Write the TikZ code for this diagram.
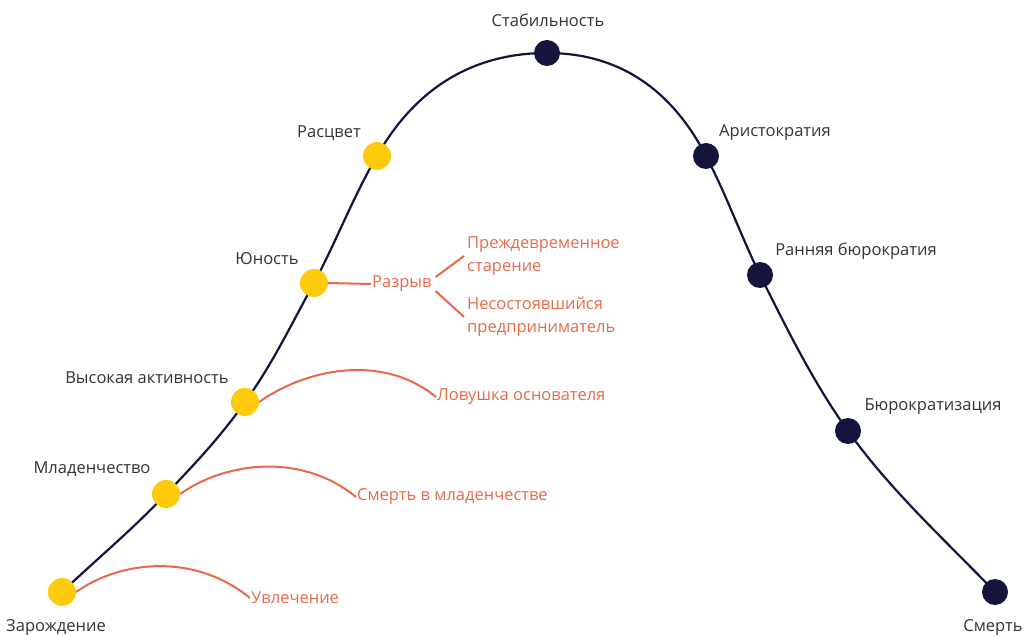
\documentclass[tikz,border=0pt]{standalone}
\usepackage{fontspec}
\setmainfont{Open Sans}
\definecolor{navy}{HTML}{14143C}
\definecolor{gold}{HTML}{FDCB0C}
\definecolor{coral}{HTML}{E8694A}
\definecolor{lbl}{HTML}{333333}
\begin{document}
\begin{tikzpicture}[x=1pt,y=-1pt,
  ydot/.style={circle,fill=gold,inner sep=0pt,minimum size=28pt},
  ndot/.style={circle,fill=navy,inner sep=0pt,minimum size=26pt},
  lab/.style={text=lbl,font=\fontsize{16.5}{20}\selectfont,inner sep=0pt},
  rlab/.style={text=coral,font=\fontsize{16.5}{23}\selectfont,inner sep=1pt,anchor=west},
  rline/.style={draw=coral,line width=2pt},
  curve/.style={draw=navy,line width=2.2pt}]
\useasboundingbox (0,0) rectangle (1026,636);
\coordinate (p0) at (62,592);
\coordinate (p1) at (166,494);
\coordinate (p2) at (245,402);
\coordinate (p3) at (314,283);
\coordinate (p4) at (377,156);
\coordinate (p5) at (547,53);
\coordinate (p6) at (706,156);
\coordinate (p7) at (760,275);
\coordinate (p8) at (848,431);
\coordinate (p9) at (995,592);
\draw[curve] (p0) .. controls +(35,-33) and +(-33,35) .. (p1)
  .. controls +(28,-29) and +(-23,33) .. (p2)
  .. controls +(27,-37) and +(-22,40) .. (p3)
  .. controls +(22,-41) and +(-24,41) .. (p4)
  .. controls +(35,-62) and +(-80,0) .. (p5)
  .. controls +(80,0) and +(-30,-58) .. (p6)
  .. controls +(20,38) and +(-19,-39) .. (p7)
  .. controls +(27,54) and +(-35,-49) .. (p8)
  .. controls +(42,59) and +(-50,-52) .. (p9);
% dots
\node[ydot] (zar) at (p0) {};
\node[ydot] (mla) at (p1) {};
\node[ydot] (vys) at (p2) {};
\node[ydot] (yun) at (p3) {};
\node[ydot] (ras) at (p4) {};
\node[ndot] (sta) at (p5) {};
\node[ndot] (ari) at (p6) {};
\node[ndot] (rbu) at (p7) {};
\node[ndot] (bur) at (p8) {};
\node[ndot] (sme) at (p9) {};
% labels
\node[lab] (tzar) at (56,628) {Зарождение};
\node[lab] (tmla) at (92,469) {Младенчество};
\node[lab] (tvys) at (147,378) {Высокая активность};
\node[lab] (tyun) at (267,259) {Юность};
\node[lab] (tras) at (329,133) {Расцвет};
\node[lab] (tsta) at (548,20) {Стабильность};
\node[lab] (tari) at (775,133) {Аристократия};
\node[lab] (trbu) at (856,251) {Ранняя бюрократия};
\node[lab] (tbur) at (933,407) {Бюрократизация};
\node[lab] (tsme) at (993,628) {Смерть};
% red labels
\node[rlab] (uvl) at (250,598) {Увлечение};
\node[rlab] (smm) at (356,497) {Смерть в младенчестве};
\node[rlab] (lov) at (436,397) {Ловушка основателя};
\node[rlab] (raz) at (371,284) {Разрыв};
\node[rlab,align=left] (pre) at (466,256) {Преждевременное\\старение};
\node[rlab,align=left] (nes) at (466,317) {Несостоявшийся\\предприниматель};
% red connectors
\draw[rline] (zar.east) .. controls +(45,-32) and +(-55,-45) .. (uvl.west);
\draw[rline] (mla.east) .. controls +(45,-32) and +(-55,-45) .. (smm.west);
\draw[rline] (vys.east) .. controls +(45,-32) and +(-55,-45) .. (lov.west);
\draw[rline] (yun.east) -- (raz.west);
\draw[rline] ([xshift=3pt,yshift=7pt]raz.east) -- ([xshift=-2pt]pre.west);
\draw[rline] ([xshift=3pt,yshift=-7pt]raz.east) -- ([xshift=-2pt]nes.west);
\end{tikzpicture}
\end{document}
